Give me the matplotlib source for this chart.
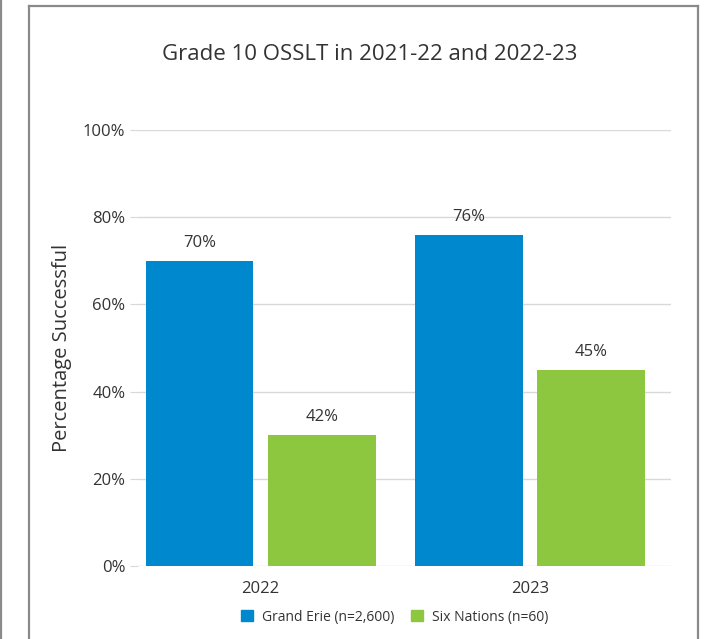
import matplotlib
matplotlib.use("Agg")
import matplotlib.pyplot as plt
from matplotlib.lines import Line2D
from matplotlib.patches import Patch
import numpy as np

plt.rcParams['font.family'] = ['Open Sans', 'DejaVu Sans']

years = ["2022", "2023"]
series_names = ["Grand Erie (n=2,600)", "Six Nations (n=60)"]
grand_erie = [70, 76]
six_nations = [30, 45]
grand_erie_labels = ["70%", "76%"]
six_nations_labels = ["42%", "45%"]
yticks = [0, 20, 40, 60, 80, 100]
ytick_labels = ["0%", "20%", "40%", "60%", "80%", "100%"]

blue = "#0088CF"
green = "#8DC63F"
text_col = "#333333"

W, H = 713, 639
fig = plt.figure(figsize=(W / 100, H / 100), dpi=100)

ax_left, ax_right = 138, 671
ax_top, ax_bottom = 130, 566
ax = fig.add_axes([ax_left / W, 1 - ax_bottom / H, (ax_right - ax_left) / W, (ax_bottom - ax_top) / H])

x = np.arange(len(years))
bw = 0.40
off = 0.227
b1 = ax.bar(x - off, grand_erie, bw, color=blue, label=series_names[0], zorder=3)
b2 = ax.bar(x + off, six_nations, bw, color=green, label=series_names[1], zorder=3)

for bars, labs in ((b1, grand_erie_labels), (b2, six_nations_labels)):
    for r, lab in zip(bars, labs):
        ax.annotate(lab, (r.get_x() + r.get_width() / 2, r.get_height()),
                    xytext=(0, 7), textcoords="offset points", ha="center", va="bottom",
                    fontsize=12, color=text_col)

ax.set_xlim(-0.455, 1.523)
ax.set_ylim(0, 100)
ax.set_yticks(yticks)
ax.set_yticklabels(ytick_labels)
ax.set_xticks(x)
ax.set_xticklabels(years)
ax.tick_params(axis='y', length=6, color="#d9d9d9", labelsize=12, labelcolor=text_col, pad=3)
ax.tick_params(axis='x', length=0, labelsize=12, labelcolor=text_col, pad=11)
ax.grid(axis='y', color="#d9d9d9", linewidth=1, zorder=0)
for s in ax.spines.values():
    s.set_visible(False)
ax.set_ylabel("Percentage Successful", fontsize=14.5, color=text_col, labelpad=8)

fig.text(370 / W, 1 - 54 / H, "Grade 10 OSSLT in 2021-22 and 2022-23", ha="center", va="center",
         fontsize=16, color=text_col)

handles = [Patch(color=blue), Patch(color=green)]
fig.legend(handles, series_names, loc="center", bbox_to_anchor=(395 / W, 1 - 617 / H), ncol=2,
           frameon=False, fontsize=10, handlelength=0.85, handleheight=0.85, handletextpad=0.65,
           columnspacing=1.2, labelcolor=text_col)

# frame lines
fc = "#8a8a8a"
fig.add_artist(Line2D([29 / W, 29 / W], [1 - 6 / H, 0], color=fc, lw=1.6, transform=fig.transFigure))
fig.add_artist(Line2D([29 / W, 698 / W], [1 - 6 / H, 1 - 6 / H], color=fc, lw=1.6, transform=fig.transFigure))
fig.add_artist(Line2D([698 / W, 698 / W], [1 - 6 / H, 0], color=fc, lw=1.6, transform=fig.transFigure))
fig.add_artist(Line2D([1 / W, 1 / W], [1, 0], color=fc, lw=1.6, transform=fig.transFigure))

fig.savefig("out.png", dpi=100)
